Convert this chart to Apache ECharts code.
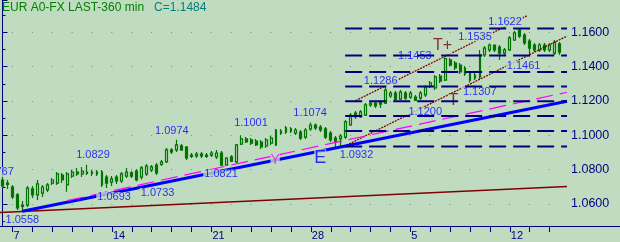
<!DOCTYPE html>
<html><head><meta charset="utf-8">
<script src="https://cdn.jsdelivr.net/npm/echarts@6/dist/echarts.min.js"></script>
<style>
html,body{margin:0;padding:0;background:#C0DCC0;overflow:hidden}
#chart{width:620px;height:242px}
</style></head><body><div id="chart"></div>
<script>
// trading days on the time axis (6-hour candles)
const days = [4,7,8,9,10,11,14,15,16,17,18,21,22,23,24,25,28,29,30,1,2,5,6,7,8,9,12,13,14];
const firstDayHours = [12,18];
const lastDayHours = [0,6,12];

const opens  = [1.0740,1.0714,1.0699,1.0653,1.0594,1.0594,1.0688,1.0653,1.0664,1.0682,1.0722,1.0722,1.0769,1.0711,1.0763,1.0786,1.0775,1.0786,1.0778,1.0786,1.0786,1.0757,1.0728,1.0757,1.0734,1.0763,1.0781,1.0792,1.0757,1.0775,1.0798,1.0827,1.0830,1.0845,1.0915,1.0915,1.0938,1.0932,1.0885,1.0880,1.0891,1.0885,1.0885,1.0874,1.0897,1.0827,1.0874,1.0845,1.0949,1.0979,1.0973,1.0967,1.0961,1.0938,1.0955,1.0944,1.1025,1.1019,1.1037,1.1013,1.1019,1.0990,1.1037,1.1060,1.1048,1.1037,1.1013,1.0984,1.0979,1.0990,1.1060,1.1130,1.1107,1.1118,1.1177,1.1188,1.1194,1.1188,1.1229,1.1246,1.1211,1.1246,1.1223,1.1223,1.1217,1.1235,1.1287,1.1276,1.1345,1.1322,1.1439,1.1421,1.1409,1.1392,1.1363,1.1334,1.1340,1.1468,1.1497,1.1526,1.1514,1.1479,1.1497,1.1555,1.1613,1.1584,1.1549,1.1526,1.1497,1.1526,1.1497,1.1479,1.1532];
const closes = [1.0705,1.0722,1.0641,1.0577,1.0586,1.0693,1.0653,1.0717,1.0699,1.0711,1.0740,1.0775,1.0740,1.0775,1.0786,1.0775,1.0792,1.0778,1.0786,1.0775,1.0711,1.0722,1.0746,1.0734,1.0775,1.0786,1.0763,1.0740,1.0810,1.0821,1.0816,1.0781,1.0845,1.0915,1.0903,1.0944,1.0915,1.0868,1.0877,1.0891,1.0880,1.0877,1.0897,1.0897,1.0827,1.0868,1.0850,1.0944,1.0979,1.0961,1.0955,1.0944,1.0932,1.0973,1.0984,1.1031,1.1013,1.1043,1.1025,1.1031,1.0984,1.1031,1.1060,1.1043,1.1031,1.0990,1.0973,1.0961,1.0996,1.1078,1.1118,1.1107,1.1136,1.1177,1.1188,1.1171,1.1182,1.1264,1.1246,1.1206,1.1252,1.1217,1.1246,1.1203,1.1246,1.1281,1.1305,1.1340,1.1316,1.1447,1.1409,1.1392,1.1369,1.1357,1.1322,1.1351,1.1468,1.1508,1.1526,1.1497,1.1479,1.1497,1.1567,1.1596,1.1578,1.1538,1.1508,1.1497,1.1526,1.1497,1.1526,1.1543,1.1484];
const lows   = [1.0693,1.0688,1.0629,1.0565,1.0558,1.0583,1.0635,1.0623,1.0641,1.0670,1.0711,1.0711,1.0722,1.0672,1.0751,1.0763,1.0757,1.0769,1.0763,1.0763,1.0699,1.0693,1.0705,1.0717,1.0722,1.0751,1.0751,1.0733,1.0743,1.0763,1.0786,1.0769,1.0821,1.0839,1.0891,1.0903,1.0909,1.0856,1.0868,1.0868,1.0868,1.0868,1.0874,1.0862,1.0821,1.0824,1.0845,1.0839,1.0944,1.0955,1.0944,1.0938,1.0920,1.0926,1.0944,1.0938,1.1002,1.1008,1.1013,1.1002,1.0973,1.0979,1.1025,1.1031,1.1019,1.0979,1.0961,1.0932,1.0938,1.0979,1.1054,1.1095,1.1101,1.1113,1.1165,1.1159,1.1159,1.1182,1.1217,1.1203,1.1206,1.1206,1.1211,1.1200,1.1206,1.1223,1.1276,1.1264,1.1305,1.1316,1.1404,1.1380,1.1357,1.1345,1.1307,1.1322,1.1328,1.1456,1.1485,1.1485,1.1439,1.1468,1.1491,1.1549,1.1567,1.1526,1.1461,1.1485,1.1485,1.1485,1.1485,1.1468,1.1468];
const highs  = [1.0767,1.0740,1.0711,1.0664,1.0618,1.0705,1.0705,1.0740,1.0711,1.0722,1.0751,1.0786,1.0781,1.0786,1.0798,1.0810,1.0816,1.0829,1.0798,1.0798,1.0798,1.0769,1.0763,1.0769,1.0786,1.0810,1.0792,1.0804,1.0821,1.0833,1.0827,1.0839,1.0856,1.0926,1.0926,1.0974,1.0949,1.0938,1.0897,1.0903,1.0903,1.0897,1.0909,1.0915,1.0909,1.0874,1.0885,1.0949,1.1001,1.0990,1.0984,1.0979,1.0973,1.0984,1.0996,1.1037,1.1037,1.1054,1.1048,1.1043,1.1031,1.1043,1.1074,1.1069,1.1060,1.1048,1.1025,1.0996,1.1008,1.1089,1.1130,1.1142,1.1147,1.1188,1.1200,1.1200,1.1206,1.1286,1.1258,1.1258,1.1264,1.1258,1.1258,1.1235,1.1258,1.1293,1.1316,1.1351,1.1357,1.1453,1.1450,1.1433,1.1421,1.1404,1.1375,1.1369,1.1497,1.1520,1.1535,1.1529,1.1526,1.1508,1.1578,1.1607,1.1622,1.1596,1.1561,1.1538,1.1538,1.1538,1.1538,1.1555,1.1543];

// pivot price annotations: price and candle index
const pivotPrices = [1.0767,1.0558,1.0829,1.0693,1.0733,1.0974,1.1001,1.0821,1.1074,1.0932,1.1200,1.1286,1.1307,1.1453,1.1535,1.1622,1.1461];
const pivotIdx    = [0,4,18,22,31,34,50,44,62,71,85,76,96,83,95,101,105];
// wave marks: text, candle index, price level
const markTexts  = ['Y','E','T+','T'];
const markIdx    = [55,64,89,91];
const markPrices = [1.0856,1.0866,1.1520,1.1200];

// trend lines: [candle index, price] end points
const supportLine  = [[4,1.0558],[113.5,1.1198]];
const parallelLine = [[13,1.0620],[113.5,1.1251]];
const baseLine     = [[-0.5,1.0551],[113.5,1.0702]];
const channelUpper = [[71,1.1202],[105.5,1.1697]];
const channelLower = [[68.6,1.0934],[113.5,1.1578]];
const levels = [1.1622,1.1465,1.1369,1.1284,1.1198,1.1113,1.1025,1.0935];
const levelFrom = 68.9;

// ---------- styling / layout ----------
const BG = '#C0DCC0', NAVY = '#000080', GREEN = '#007400', FONT = 'Liberation Sans, Arial, sans-serif';
const pivotOffsets = [[-5.5,-3.3],[0,8.3],[1,-9.7],[2.2,9],[0.9,11.8],[0.2,-8.8],[-0.2,-11.8],[-0.2,8.4],[-0.7,-9.6],[0.9,7.7],[0,11],[0.2,-5.2],[-0.2,9.1],[-0.4,-1.5],[0,-6.9],[0.2,-6.6],[-1.1,9.7]];
const markStyles = [
  {color:'#ff00ff', fontSize:14, offset:[-0.9,0]},
  {color:'#0000ff', fontSize:18, offset:[-0.6,0]},
  {color:'#800000', fontSize:16, offset:[-2.6,0]},
  {color:'#800000', fontSize:16, offset:[-1.8,0]}
];

const cats = [];
days.forEach((d, k) => {
  const hours = k === 0 ? firstDayHours : (k === days.length - 1 ? lastDayHours : [0,6,12,18]);
  const monday = k > 0 && (k - 1) % 5 === 0;
  hours.forEach(h => cats.push(d + '|' + h + '|' + (monday ? 1 : 0)));
});
cats.push('');
const xMax = cats.length - 0.5;

function lineSeries(data, color, width, type, z) {
  return {type:'line', xAxisIndex:1, yAxisIndex:0, data, symbol:'none', silent:true, animation:false,
    lineStyle:{color, width, type}, z};
}

const series = [
  {type:'candlestick', xAxisIndex:0, yAxisIndex:0, z:2, barWidth:2.4, silent:true, animation:false,
   data: opens.map((o, i) => [o, closes[i], lows[i], highs[i]]),
   itemStyle:{color:BG, color0:GREEN, borderColor:GREEN, borderColor0:GREEN, borderWidth:1.2}},
  lineSeries(baseLine, '#800000', 1.5, 'solid', 3),
  lineSeries(channelUpper, '#800000', 1.3, [2,1], 3),
  lineSeries(channelLower, '#800000', 1.3, [2,1], 3),
  lineSeries(supportLine, '#0000ff', 3, 'solid', 3),
  lineSeries(parallelLine, '#ff00ff', 1.2, [17,7], 3),
  {type:'scatter', xAxisIndex:1, yAxisIndex:0, z:4, symbolSize:0, silent:true, animation:false,
   itemStyle:{color:'rgba(0,0,0,0)'},
   data: pivotPrices.map((p, i) => ({value:[pivotIdx[i], p], label:{offset:pivotOffsets[i]}})),
   label:{show:true, position:'inside', formatter: p => p.value[1].toFixed(4), color:'#0000ff',
     fontSize:11, fontFamily:FONT, lineHeight:10, backgroundColor:BG, padding:[0,1]}},
  {type:'scatter', xAxisIndex:1, yAxisIndex:0, z:4, symbolSize:0, silent:true, animation:false,
   itemStyle:{color:'rgba(0,0,0,0)'},
   data: markTexts.map((t, i) => ({name:t, value:[markIdx[i], markPrices[i]],
     label:{color:markStyles[i].color, fontSize:markStyles[i].fontSize, offset:markStyles[i].offset}})),
   label:{show:true, position:'inside', formatter: p => p.name, fontFamily:FONT,
     backgroundColor:BG, padding:[0,0]}}
];
levels.forEach(l => series.push(lineSeries([[levelFrom, l], [xMax, l]], NAVY, 2, [17,7], 5)));

const chart = echarts.init(document.getElementById('chart'), null, {renderer:'canvas'});
chart.setOption({
  backgroundColor: BG,
  animation: false,
  title: {
    left: 2, top: 2, padding: 0,
    text: '{a|EUR A0-FX LAST-360 min}{b|   C=' + closes[closes.length - 1].toFixed(4) + '}',
    textStyle: {fontWeight:'normal', rich: {
      a: {color:'#008000', fontSize:12, fontFamily:FONT},
      b: {color:'#008080', fontSize:12, fontFamily:FONT}
    }}
  },
  grid: [
    {left:0, right:53, top:0, bottom:16, containLabel:false},
    {left:0, right:0, top:0, bottom:16, containLabel:false}
  ],
  xAxis: [
    {type:'category', gridIndex:0, data:cats, boundaryGap:true,
     axisLine:{show:true, lineStyle:{color:NAVY}},
     axisTick:{show:true, alignWithLabel:true, length:6, lineStyle:{color:NAVY},
       interval:(i, v) => v.split('|')[1] === '0'},
     axisLabel:{show:true, color:NAVY, fontSize:11, fontFamily:FONT, margin:4, align:'left', padding:[0,0,0,1],
       interval:(i, v) => { const p = v.split('|'); return p[1] === '0' && p[2] === '1'; },
       formatter: v => v.split('|')[0]},
     splitLine:{show:false}},
    {type:'value', gridIndex:0, min:-0.5, max:xMax, show:false},
    {type:'value', gridIndex:1, min:0, max:1, axisLine:{show:true, lineStyle:{color:NAVY}},
     axisTick:{show:false}, axisLabel:{show:false}, splitLine:{show:false}}
  ],
  yAxis: [
    {type:'value', gridIndex:0, position:'right', min:1.0472, max:1.1788, splitNumber:6,
     axisLine:{show:true, lineStyle:{color:NAVY}},
     axisTick:{show:true, inside:false, length:5, lineStyle:{color:NAVY}},
     minorTick:{show:true, splitNumber:2, length:3, lineStyle:{color:NAVY}},
     splitLine:{show:true, showMinLine:false, showMaxLine:false,
       lineStyle:{color:'#7a8a7a', width:1, type:[1,18.884], dashOffset:7.95}},
     axisLabel:{color:NAVY, fontSize:12.5, fontFamily:FONT, margin:4,
       formatter: v => Math.abs(v * 50 - Math.round(v * 50)) < 1e-6 ? v.toFixed(4) : ''}},
    {type:'value', gridIndex:1, show:false}
  ],
  series
});
</script></body></html>
